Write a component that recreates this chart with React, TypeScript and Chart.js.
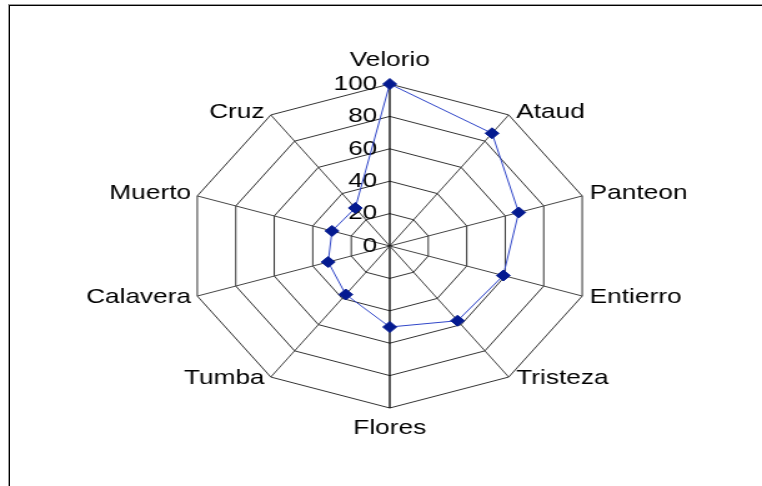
import React, { useEffect, useRef } from "react";
import { Chart, registerables } from "chart.js";

Chart.register(...registerables);

const categories = ["Velorio", "Ataud", "Panteon", "Entierro", "Tristeza", "Flores", "Tumba", "Calavera", "Muerto", "Cruz"];
const values = [100, 86, 67, 59, 57, 50, 37, 32, 30, 29];
const tickValues = [0, 20, 40, 60, 80, 100];
const tickLabels = ["0", "20", "40", "60", "80", "100"];

const FONT = "21px 'Liberation Sans', Arial, sans-serif";
const INTERNAL_W = 610;
const H = 486;
const DISPLAY_W = 762;

const labelsPlugin = {
  id: "customLabels",
  beforeDatasetsDraw(chart: any) {
    const scale = chart.scales.r;
    const ctx = chart.ctx;
    ctx.save();
    ctx.font = FONT;
    ctx.fillStyle = "#000";
    ctx.textAlign = "right";
    ctx.textBaseline = "middle";
    tickValues.forEach((v, i) => {
      const d = scale.getDistanceFromCenterForValue(v);
      ctx.fillText(tickLabels[i], scale.xCenter - 10, scale.yCenter - d);
    });
    ctx.restore();
  },
  afterDatasetsDraw(chart: any) {
    const scale = chart.scales.r;
    const ctx = chart.ctx;
    const n = categories.length;
    ctx.save();
    ctx.font = FONT;
    ctx.fillStyle = "#000";
    ctx.textBaseline = "middle";
    categories.forEach((label, i) => {
      const p = scale.getPointPosition(i, scale.drawingArea);
      let x = p.x;
      let y = p.y;
      let align: CanvasTextAlign = "center";
      if (i === 0) {
        y -= 24;
      } else if (i === n / 2) {
        y += 20;
      } else if (i < n / 2) {
        align = "left";
        x += 6;
        y += i <= 2 ? -3 : 1.5;
      } else {
        align = "right";
        x -= 5;
        y += i >= 8 ? -3 : 1.5;
      }
      ctx.textAlign = align;
      ctx.fillText(label, x, y);
    });
    ctx.restore();
  },
};

export default function App() {
  const canvasRef = useRef<HTMLCanvasElement | null>(null);

  useEffect(() => {
    if (!canvasRef.current) return;
    const chart = new Chart(canvasRef.current, {
      type: "radar",
      data: {
        labels: categories,
        datasets: [
          {
            data: values,
            borderColor: "#2f45c8",
            borderWidth: 1,
            backgroundColor: "transparent",
            fill: false,
            pointStyle: "rectRot",
            pointRadius: 5.5,
            pointBackgroundColor: "#041a90",
            pointBorderColor: "#041a90",
            pointBorderWidth: 1,
          },
        ],
      },
      options: {
        responsive: false,
        maintainAspectRatio: false,
        devicePixelRatio: 1,
        animation: false,
        layout: { padding: { top: 84, bottom: 78, left: 150, right: 136 } },
        plugins: {
          legend: { display: false },
          tooltip: { enabled: false },
        },
        scales: {
          r: {
            min: 0,
            max: 100,
            ticks: { stepSize: 20, display: false },
            pointLabels: { display: false },
            grid: { color: "#333", lineWidth: 1 },
            angleLines: {
              color: (c: any) => (c.index === 0 || c.index === 5 ? "#000" : "#444"),
              lineWidth: (c: any) => (c.index === 0 || c.index === 5 ? 1.3 : 1),
            },
          },
        },
      },
      plugins: [labelsPlugin],
    } as any);
    return () => chart.destroy();
  }, []);

  return (
    <div style={{ position: "absolute", left: 0, top: 0, width: DISPLAY_W, height: H, overflow: "hidden", background: "#fff" }}>
      <div
        style={{
          position: "absolute",
          left: 8,
          top: 4,
          width: 800,
          height: 600,
          borderLeft: "1px solid #999",
          borderTop: "1px solid #999",
        }}
      >
        <div style={{ width: "100%", height: "100%", borderLeft: "1px solid #000", borderTop: "1px solid #000" }} />
      </div>
      <canvas
        ref={canvasRef}
        width={INTERNAL_W}
        height={H}
        style={{ position: "absolute", left: 0, top: 0, width: DISPLAY_W + "px", height: H + "px", display: "block" }}
      />
    </div>
  );
}
